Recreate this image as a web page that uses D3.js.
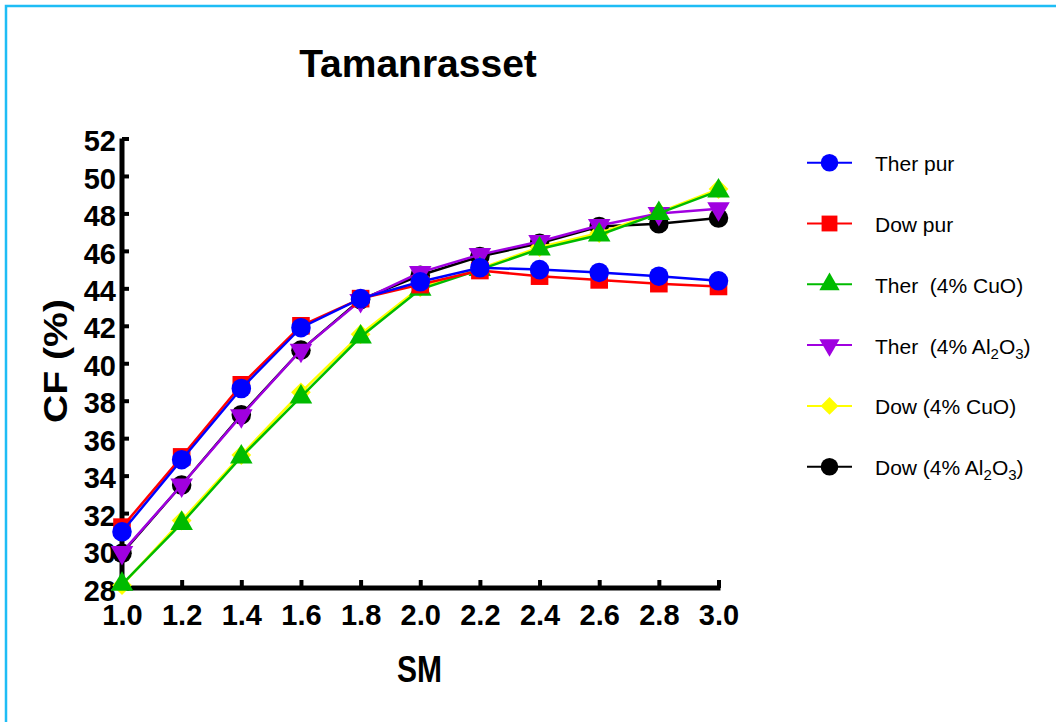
<!DOCTYPE html>
<html>
<head>
<meta charset="utf-8">
<script src="https://cdn.jsdelivr.net/npm/d3@7"></script>
<style>
  html, body { margin: 0; padding: 0; background: #fff; }
  svg { display: block; font-family: "Liberation Sans", Arial, sans-serif; }
  text { white-space: pre; }
</style>
</head>
<body>
<svg id="chart" width="1056" height="722"></svg>
<script>
// ---- data ----
const smValues = [1.0, 1.2, 1.4, 1.6, 1.8, 2.0, 2.2, 2.4, 2.6, 2.8, 3.0];
const xTicks = [1.0, 1.2, 1.4, 1.6, 1.8, 2.0, 2.2, 2.4, 2.6, 2.8, 3.0];
const yTicks = [28, 30, 32, 34, 36, 38, 40, 42, 44, 46, 48, 50, 52];
const therPur = [31.0, 34.85, 38.65, 41.9, 43.45, 44.35, 45.1, 45.0, 44.85, 44.65, 44.4];
const dowPur  = [31.25, 35.0, 38.85, 42.0, 43.45, 44.2, 44.95, 44.65, 44.45, 44.25, 44.1];
const therCuO = [28.2, 31.45, 35.0, 38.2, 41.4, 43.95, 45.0, 46.1, 46.85, 48.0, 49.2];
const therAl  = [29.9, 33.5, 37.2, 40.7, 43.35, 44.85, 45.8, 46.5, 47.35, 48.0, 48.25];
const dowCuO  = [28.15, 31.6, 35.1, 38.45, 41.55, 44.05, 45.05, 46.2, 46.95, 48.05, 49.3];
const dowAl   = [29.85, 33.5, 37.25, 40.7, 43.4, 44.7, 45.7, 46.4, 47.3, 47.45, 47.75];
const seriesNames = ["Ther pur", "Dow pur", "Ther  (4% CuO)", "Ther  (4% Al2O3)", "Dow (4% CuO)", "Dow (4% Al2O3)"];
const seriesColors = ["#0000ff", "#ff0000", "#00bb00", "#a000e0", "#ffff00", "#000000"];
const seriesShapes = ["circle", "square", "triangle", "triangleDown", "diamond", "circle"];
const seriesValues = [therPur, dowPur, therCuO, therAl, dowCuO, dowAl];

// ---- layout ----
const svg = d3.select("#chart");
const x = d3.scaleLinear().domain([1, 3]).range([122, 718.5]);
const y = d3.scaleLinear().domain([28, 52]).range([588, 138.5]);

// border
svg.append("path")
  .attr("d", "M6,722 L6,6 L1056,6")
  .attr("fill", "none").attr("stroke", "#1ebdf5").attr("stroke-width", 2.5);

// title
svg.append("text").attr("x", 418).attr("y", 77).attr("text-anchor", "middle")
  .attr("font-size", 39).attr("font-weight", "bold").text("Tamanrasset");

// axes
const yAxis = d3.axisLeft(y).tickValues(yTicks).tickSize(-7).tickPadding(13).tickFormat(d3.format("d"));
const gy = svg.append("g").attr("transform", "translate(122,0)").call(yAxis);
gy.select(".domain").attr("d", `M0,${y(52)}V${y(28)}`).attr("stroke", "#000").attr("stroke-width", 5);
gy.selectAll(".tick line").attr("stroke", "#000").attr("stroke-width", 4);
gy.selectAll(".tick text").attr("font-size", 29).attr("font-weight", "bold")
  .attr("font-family", "Liberation Sans, Arial, sans-serif").attr("fill", "#000")
  .attr("x", -6).attr("dy", "0.42em");

const xAxis = d3.axisBottom(x).tickValues(xTicks).tickSize(-8).tickPadding(18).tickFormat(d3.format(".1f"));
const gx = svg.append("g").attr("transform", "translate(0,588)").call(xAxis);
gx.select(".domain").attr("d", `M${x(1) - 2.5},0H${x(3) + 2}`).attr("stroke", "#000").attr("stroke-width", 5);
gx.selectAll(".tick line").attr("stroke", "#000").attr("stroke-width", 4);
gx.selectAll(".tick text").attr("font-size", 29).attr("font-weight", "bold")
  .attr("font-family", "Liberation Sans, Arial, sans-serif").attr("fill", "#000")
  .attr("y", 16).attr("dy", "0.71em");

// axis labels
svg.append("text").attr("transform", "translate(67,361) rotate(-90)").attr("text-anchor", "middle")
  .attr("font-size", 34).attr("font-weight", "bold")
  .attr("textLength", 124).attr("lengthAdjust", "spacingAndGlyphs").text("CF (%)");
svg.append("text").attr("x", 419.5).attr("y", 682).attr("text-anchor", "middle")
  .attr("font-size", 36).attr("font-weight", "bold")
  .attr("textLength", 45).attr("lengthAdjust", "spacingAndGlyphs").text("SM");

// symbol helper
function symbolPath(shape, scale) {
  const s = scale || 1;
  if (shape === "circle") return d3.symbol(d3.symbolCircle, 300 * s * s)();
  if (shape === "square") return d3.symbol(d3.symbolSquare, 310 * s * s)();
  if (shape === "triangle" || shape === "triangleDown") return d3.symbol(d3.symbolTriangle, 220 * s * s)();
  if (shape === "diamond") return d3.symbol(d3.symbolSquare, 195 * s * s)();
  return null;
}
function symbolRotate(shape) {
  if (shape === "triangleDown") return 180;
  if (shape === "diamond") return 45;
  return 0;
}

// series (draw in reverse order so the first is on top)
const line = d3.line().x((d, i) => x(smValues[i])).y(d => y(d));
for (let k = seriesValues.length - 1; k >= 0; k--) {
  const g = svg.append("g");
  g.append("path").datum(seriesValues[k]).attr("d", line)
    .attr("fill", "none").attr("stroke", seriesColors[k]).attr("stroke-width", 2.5);
  g.selectAll("path.m").data(seriesValues[k]).join("path").attr("class", "m")
    .attr("d", symbolPath(seriesShapes[k]))
    .attr("transform", (d, i) => `translate(${x(smValues[i])},${y(d)}) rotate(${symbolRotate(seriesShapes[k])})`)
    .attr("fill", seriesColors[k]);
}

// legend
const legendY = d3.scaleLinear().domain([0, 5]).range([162.7, 466.7]);
seriesNames.forEach((name, k) => {
  const cy = legendY(k);
  const g = svg.append("g");
  g.append("line").attr("x1", 807).attr("x2", 852).attr("y1", cy).attr("y2", cy)
    .attr("stroke", seriesColors[k]).attr("stroke-width", 2);
  g.append("path").attr("d", symbolPath(seriesShapes[k], 0.9))
    .attr("transform", `translate(829.5,${cy}) rotate(${symbolRotate(seriesShapes[k])})`)
    .attr("fill", seriesColors[k]);
  const t = g.append("text").attr("x", 875).attr("y", cy + 8.5).attr("font-size", 21).attr("fill", "#000");
  const m = name.match(/^(.*)Al2O3(.*)$/);
  if (m) {
    t.append("tspan").text(m[1] + "Al");
    t.append("tspan").attr("font-size", 15).attr("dy", 5).text("2");
    t.append("tspan").attr("dy", -5).text("O");
    t.append("tspan").attr("font-size", 15).attr("dy", 5).text("3");
    t.append("tspan").attr("dy", -5).text(m[2]);
  } else {
    t.text(name);
  }
});
</script>
</body>
</html>
